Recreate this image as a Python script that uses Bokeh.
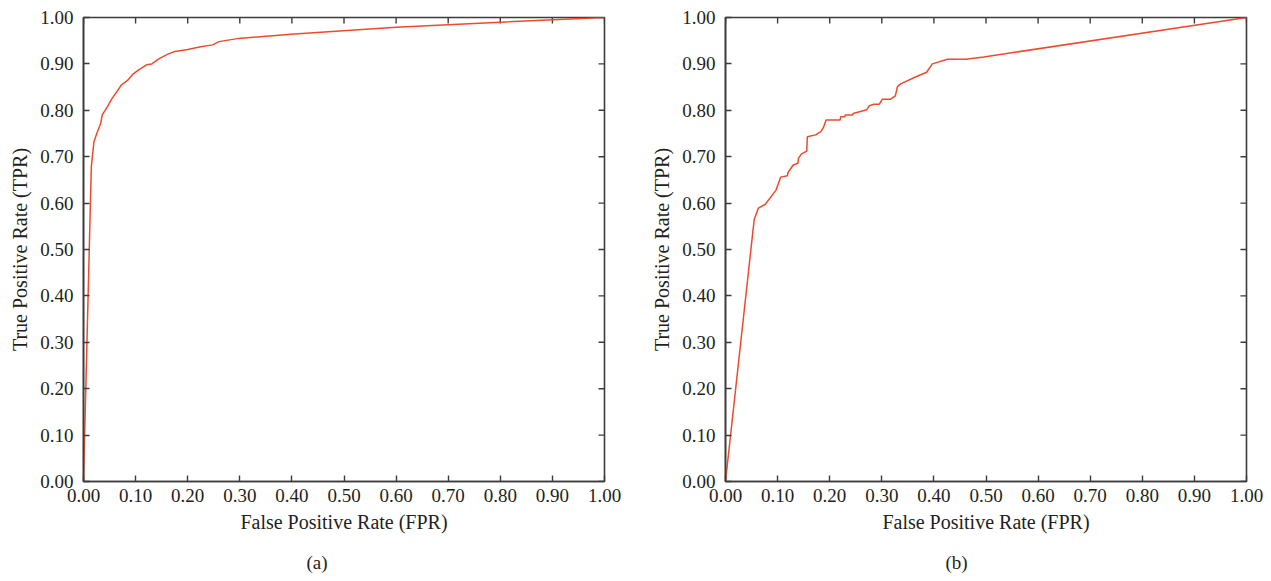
from bokeh.plotting import figure
from bokeh.models import FixedTicker, NumeralTickFormatter, Range1d, Title
from bokeh.layouts import row
from bokeh.embed import file_html
from bokeh.resources import INLINE

# ROC curve (a)
fpr_a = [0, 0.015, 0.020, 0.0255, 0.033, 0.036, 0.046, 0.054, 0.062, 0.073, 0.085,
         0.095, 0.106, 0.121, 0.131, 0.146, 0.162, 0.173, 0.200, 0.225, 0.248, 0.260,
         0.298, 0.398, 0.600, 0.800, 1.0]
tpr_a = [0, 0.678, 0.732, 0.750, 0.772, 0.790, 0.808, 0.824, 0.837, 0.855, 0.865,
         0.878, 0.887, 0.898, 0.900, 0.912, 0.921, 0.926, 0.931, 0.937, 0.941, 0.948,
         0.955, 0.964, 0.979, 0.990, 1.0]

# ROC curve (b)
fpr_b = [0, 0.055, 0.063, 0.076, 0.097, 0.106, 0.119, 0.120, 0.130, 0.139, 0.140,
         0.146, 0.156, 0.157, 0.173, 0.183, 0.188, 0.193, 0.220, 0.221, 0.229, 0.230,
         0.244, 0.245, 0.271, 0.276, 0.285, 0.295, 0.301, 0.317, 0.326, 0.330, 0.336,
         0.369, 0.386, 0.397, 0.426, 0.461, 0.496, 1.0]
tpr_b = [0, 0.564, 0.589, 0.597, 0.628, 0.656, 0.659, 0.666, 0.682, 0.686, 0.697,
         0.706, 0.712, 0.743, 0.747, 0.754, 0.763, 0.779, 0.779, 0.786, 0.786, 0.790,
         0.790, 0.793, 0.801, 0.810, 0.813, 0.813, 0.824, 0.824, 0.831, 0.851, 0.857,
         0.874, 0.882, 0.900, 0.910, 0.910, 0.915, 1.0]

ticks = [0.0, 0.1, 0.2, 0.3, 0.4, 0.5, 0.6, 0.7, 0.8, 0.9, 1.0]
x_label = "False Positive Rate (FPR)"
y_label = "True Positive Rate (TPR)"
captions = ["(a)", "(b)"]

FONT = "Liberation Serif"
TXT = "#231f20"
AX = "#3c3c3c"
LINE = "#ef4a2d"


def style_axis(ax):
    ax.ticker = FixedTicker(ticks=ticks)
    ax.formatter = NumeralTickFormatter(format="0.00")
    ax.axis_line_color = AX
    ax.axis_line_width = 1.6
    ax.major_tick_line_color = AX
    ax.major_tick_line_width = 1.4
    ax.major_tick_in = 6
    ax.major_tick_out = 0
    ax.minor_tick_line_color = None
    ax.major_label_text_font = FONT
    ax.major_label_text_color = TXT
    ax.major_label_text_font_size = "19px"
    ax.axis_label_text_font = FONT
    ax.axis_label_text_color = TXT
    ax.axis_label_text_font_style = "normal"
    ax.axis_label_text_font_size = "20px"


def make_panel(xs, ys, caption, border_left, border_right, cap_offset):
    p = figure(frame_width=521, frame_height=464,
               min_border_left=border_left, min_border_right=border_right,
               min_border_top=17, min_border_bottom=98,
               x_range=Range1d(0, 1), y_range=Range1d(0, 1),
               output_backend="svg", toolbar_location=None,
               x_axis_label=x_label, y_axis_label=y_label)
    p.grid.visible = False
    p.outline_line_color = AX
    p.outline_line_width = 1.6
    p.background_fill_color = "white"
    p.border_fill_color = "white"
    style_axis(p.xaxis[0])
    style_axis(p.yaxis[0])
    p.xaxis[0].major_label_standoff = 7
    p.xaxis[0].axis_label_standoff = 6
    p.yaxis[0].major_label_standoff = 10
    p.yaxis[0].axis_label_standoff = 6
    # inward ticks on the top and right edges of the box
    p.ray(x=ticks, y=[1.0] * len(ticks), length=6, length_units="screen",
          angle=-90, angle_units="deg", line_color=AX, line_width=1.4)
    p.ray(x=[1.0] * len(ticks), y=ticks, length=6, length_units="screen",
          angle=180, angle_units="deg", line_color=AX, line_width=1.4)
    p.line(xs, ys, line_color=LINE, line_width=1.5)
    cap = Title(text=caption, align="left", offset=cap_offset,
                text_font=FONT, text_font_style="normal",
                text_font_size="19px", text_color=TXT, standoff=29)
    p.add_layout(cap, "below")
    return p


p1 = make_panel(fpr_a, tpr_a, captions[0], 83, 37, 223)
p2 = make_panel(fpr_b, tpr_b, captions[1], 84, 17, 220)
layout = row(p1, p2)

open("out.html", "w").write(file_html(layout, INLINE))
